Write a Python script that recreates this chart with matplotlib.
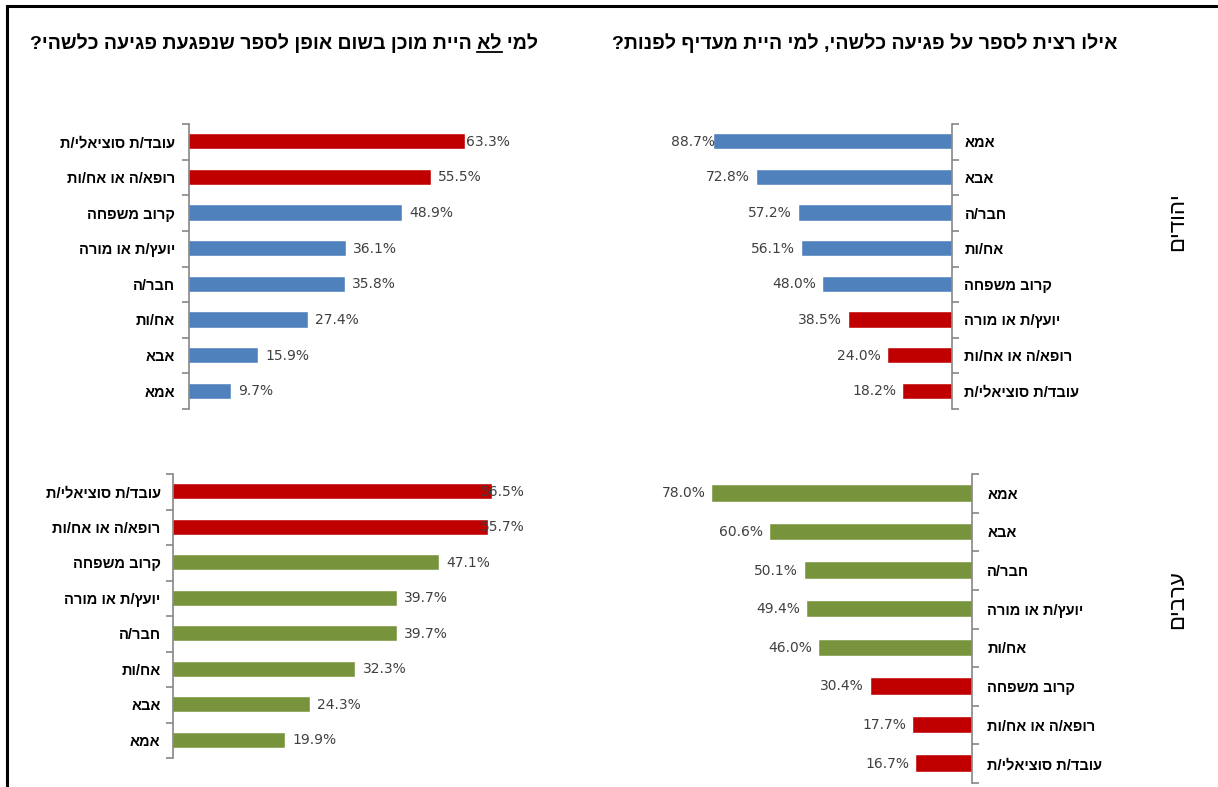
import numpy as np
import matplotlib.pyplot as plt
from matplotlib.lines import Line2D

plt.rcParams['font.family'] = ['Liberation Sans', 'DejaVu Sans']

# ---- data ----
title_left = "למי לא היית מוכן בשום אופן לספר שנפגעת פגיעה כלשהי?"
title_right = "אילו רצית לספר על פגיעה כלשהי, למי היית מעדיף לפנות?"
group_top = "יהודים"
group_bottom = "ערבים"

tl_labels = ["עובד/ת סוציאלי/ת", "רופא/ה או אח/ות", "קרוב משפחה", "יועץ/ת או מורה",
             "חבר/ה", "אח/ות", "אבא", "אמא"]
tl_values = [63.3, 55.5, 48.9, 36.1, 35.8, 27.4, 15.9, 9.7]
tl_red = [1, 1, 0, 0, 0, 0, 0, 0]

tr_labels = ["אמא", "אבא", "חבר/ה", "אח/ות", "קרוב משפחה", "יועץ/ת או מורה",
             "רופא/ה או אח/ות", "עובד/ת סוציאלי/ת"]
tr_values = [88.7, 72.8, 57.2, 56.1, 48.0, 38.5, 24.0, 18.2]
tr_red = [0, 0, 0, 0, 0, 1, 1, 1]

bl_labels = ["עובד/ת סוציאלי/ת", "רופא/ה או אח/ות", "קרוב משפחה", "יועץ/ת או מורה",
             "חבר/ה", "אח/ות", "אבא", "אמא"]
bl_values = [56.5, 55.7, 47.1, 39.7, 39.7, 32.3, 24.3, 19.9]
bl_red = [1, 1, 0, 0, 0, 0, 0, 0]

br_labels = ["אמא", "אבא", "חבר/ה", "יועץ/ת או מורה", "אח/ות", "קרוב משפחה",
             "רופא/ה או אח/ות", "עובד/ת סוציאלי/ת"]
br_values = [78.0, 60.6, 50.1, 49.4, 46.0, 30.4, 17.7, 16.7]
br_red = [0, 0, 0, 0, 0, 1, 1, 1]

BLUE = "#4F81BD"
GREEN = "#77933C"
RED = "#C00000"
AXIS_GRAY = "#868686"
VALUE_COL = "#404040"

W, H = 1218, 787
fig = plt.figure(figsize=(W / 100, H / 100), dpi=100)


def heb(s):
    # matplotlib has no bidi support: reverse hebrew strings for display
    return s[::-1]


def px_axes(left, top, right, bottom):
    return fig.add_axes([left / W, 1 - bottom / H, (right - left) / W, (bottom - top) / H])


panels = []


def panel(box, side, px_per_pct, labels, values, red, base_color, pad):
    left, top, right, bottom = box
    ax = px_axes(left, top, right, bottom)
    n = len(values)
    ypos = np.arange(n)
    colors = [RED if r else base_color for r in red]
    ax.barh(ypos, values, height=0.43, color=colors, edgecolor="white", linewidth=0.3)
    span = (right - left) / px_per_pct
    if side == "left":
        ax.set_xlim(0, span)
    else:
        ax.set_xlim(span, 0)
    ax.set_ylim(n - 0.5, -0.5)
    for s in ax.spines.values():
        s.set_visible(False)
    sp = ax.spines["left" if side == "left" else "right"]
    sp.set_visible(True)
    sp.set_color(AXIS_GRAY)
    sp.set_linewidth(1.2)
    ax.set_xticks([])
    ax.set_yticks(ypos)
    ax.set_yticklabels([heb(l) for l in labels], fontweight="bold", fontsize=10.5)
    ax.set_yticks(np.arange(-0.5, n), minor=True)
    if side == "right":
        ax.yaxis.tick_right()
    ax.tick_params(axis="y", which="major", length=0, pad=pad)
    ax.tick_params(axis="y", which="minor", length=5, width=1.2, color=AXIS_GRAY, direction="out")
    ax.patch.set_alpha(0)

    anns = []
    for i, v in enumerate(values):
        if side == "left":
            a = ax.annotate(f"{v:.1f}%", (v, i), xytext=(7, 0), textcoords="offset pixels",
                            ha="left", va="center", fontsize=10, color=VALUE_COL,
                            family=["DejaVu Sans"])
        else:
            a = ax.annotate(f"{v:.1f}%", (v, i), xytext=(-7, 0), textcoords="offset pixels",
                            ha="right", va="center", fontsize=10, color=VALUE_COL,
                            family=["DejaVu Sans"])
        anns.append(a)
    panels.append((ax, side, anns))


panel((189, 124, 510, 409), "left", 4.36, tl_labels, tl_values, tl_red, BLUE, 10)
panel((671, 124, 952, 409), "right", 2.68, tr_labels, tr_values, tr_red, BLUE, 9)
panel((173, 474, 525, 758), "left", 5.65, bl_labels, bl_values, bl_red, GREEN, 9)
panel((655, 474, 972, 783), "right", 3.33, br_labels, br_values, br_red, GREEN, 11)

# titles
TITLE_SIZE = 14
fig.text(538 / W, 1 - 49 / H, heb(title_left), ha="right", va="baseline",
         fontsize=TITLE_SIZE, fontweight="bold")
fig.text(1117 / W, 1 - 49 / H, heb(title_right), ha="right", va="baseline",
         fontsize=TITLE_SIZE, fontweight="bold")

# group labels on the side
fig.text(1178 / W, 1 - 222 / H, heb(group_top), rotation=90, ha="center", va="center", fontsize=16)
fig.text(1178 / W, 1 - 600 / H, heb(group_bottom), rotation=90, ha="center", va="center", fontsize=16)

# frame
fig.add_artist(Line2D([7 / W, 7 / W], [0, 1 - 6 / H], color="black", lw=2.2))
fig.add_artist(Line2D([7 / W, 1], [1 - 6 / H, 1 - 6 / H], color="black", lw=2.2))

fig.canvas.draw()
renderer = fig.canvas.get_renderer()

# keep value labels inside the plot area, like excel does
for ax, side, anns in panels:
    abox = ax.get_window_extent(renderer)
    x0, x1 = ax.get_xlim()
    for a in anns:
        bb = a.get_window_extent(renderer)
        if side == "left" and bb.x1 > abox.x1:
            a.xy = (x1, a.xy[1])
            a.set_position((0, 0))
            a.set_ha("right")
        if side == "right" and bb.x0 < abox.x0:
            a.xy = (max(x0, x1), a.xy[1])
            a.set_position((0, 0))
            a.set_ha("left")


# underline the word "לא" in the left title
def text_width(s):
    t = fig.text(0, 0, s, fontsize=TITLE_SIZE, fontweight="bold")
    w = t.get_window_extent(renderer).width
    t.remove()
    return w


w_head = text_width(heb("למי לא"))
w_la = text_width(heb("לא"))
x_right = 538
x_start = x_right - w_head
fig.add_artist(Line2D([x_start / W, (x_start + w_la) / W], [1 - 52 / H, 1 - 52 / H],
                      color="black", lw=1.3))

fig.savefig("out.png", dpi=100)
